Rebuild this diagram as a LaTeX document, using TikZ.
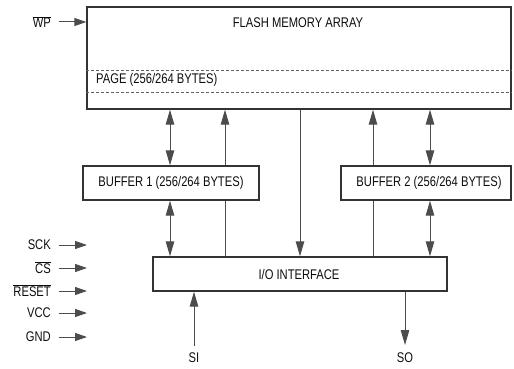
\documentclass[tikz,border=0pt]{standalone}
\usepackage{fontspec}
\setmainfont[FakeStretch=0.8]{Liberation Sans}
\usetikzlibrary{arrows.meta}
\newcommand{\ovlbar}[1]{$\overline{\hbox{#1}}$}
\begin{document}
\begin{tikzpicture}[x=1pt,y=-1pt,
  box/.style={draw=black!80, line width=1.4pt, fill=white, inner sep=0pt},
  conn/.style={draw=black!70, line width=1pt},
  tipend/.style={-{Triangle[length=15pt,width=8.5pt]}},
  tipboth/.style={{Triangle[length=15pt,width=8.5pt]}-{Triangle[length=15pt,width=8.5pt]}},
  tiph/.style={-{Triangle[length=12pt,width=8pt]}},
  dashline/.style={draw=black!62, line width=0.7pt, dash pattern=on 3pt off 2pt},
  lbl/.style={font=\fontsize{14}{16}\selectfont, text=black!95, inner sep=0pt}]
\useasboundingbox (0,0) rectangle (514,369);

% boxes
\node[box, minimum width=424pt, minimum height=102pt] (flash) at (299,58) {};
\node[lbl] (fma) at (298,23) {FLASH MEMORY ARRAY};
\draw[dashline] (flash.west |- 0,70) -- (flash.east |- 0,70);
\draw[dashline] (flash.west |- 0,92) -- (flash.east |- 0,92);
\node[lbl, anchor=west] (page) at (96,80) {PAGE (256/264 BYTES)};

\node[box, minimum width=176pt, minimum height=34pt] (buf1) at (171,183) {};
\node[lbl] (buf1t) at (171,183) {BUFFER 1 (256/264 BYTES)};
\node[box, minimum width=170pt, minimum height=34pt] (buf2) at (426,183) {};
\node[lbl] (buf2t) at (429,183) {BUFFER 2 (256/264 BYTES)};
\node[box, minimum width=294pt, minimum height=34pt] (io) at (300,274) {};
\node[lbl] (iot) at (299,274) {I/O INTERFACE};

% vertical connectors
\coordinate (xa) at (170,0);
\coordinate (xb) at (225,0);
\coordinate (xc) at (300,0);
\coordinate (xd) at (373,0);
\coordinate (xe) at (430,0);
\draw[conn,tipboth] (flash.south -| xa) -- (buf1.north -| xa);
\draw[conn,tipboth] (buf1.south -| xa) -- (io.north -| xa);
\draw[conn] (io.north -| xb) -- (buf1.south -| xb);
\draw[conn,tipend] (buf1.north -| xb) -- (flash.south -| xb);
\draw[conn,tipend] (flash.south -| xc) -- (io.north -| xc);
\draw[conn] (io.north -| xd) -- (buf2.south -| xd);
\draw[conn,tipend] (buf2.north -| xd) -- (flash.south -| xd);
\draw[conn,tipboth] (flash.south -| xe) -- (buf2.north -| xe);
\draw[conn,tipboth] (buf2.south -| xe) -- (io.north -| xe);

% left inputs
\node[lbl, anchor=east] (wp) at (51,22) {\ovlbar{WP}};
\coordinate (wps) at (59,22);
\draw[conn,tiph] (wps) -- (flash.west |- wps);

\node[lbl, anchor=east] (sck) at (51,245) {SCK};
\node[lbl, anchor=east] (cs) at (51,268) {\ovlbar{CS}};
\node[lbl, anchor=east] (rst) at (51,291) {\ovlbar{RESET}};
\node[lbl, anchor=east] (vcc) at (51,313) {VCC};
\node[lbl, anchor=east] (gnd) at (51,337) {GND};
\foreach \n/\y in {sck/245,cs/268,rst/291,vcc/313,gnd/337}{
  \coordinate (\n s) at (59,\y);
  \coordinate (\n e) at (87,\y);
  \draw[conn,tiph] (\n s) -- (\n e);
}

% SI / SO
\node[lbl] (si) at (194,358) {SI};
\coordinate (sis) at (194,346);
\draw[conn,tipend] (sis) -- (io.south -| sis);
\node[lbl] (so) at (405,358) {SO};
\coordinate (soe) at (405,345);
\draw[conn,tipend] (io.south -| soe) -- (soe);
\end{tikzpicture}
\end{document}
